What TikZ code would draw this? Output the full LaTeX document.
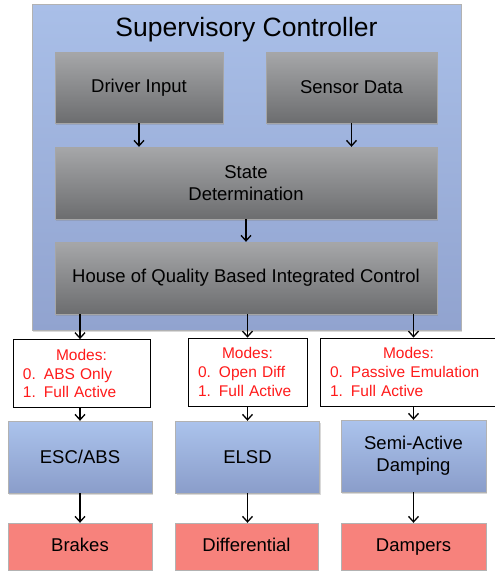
\documentclass[tikz,border=0pt]{standalone}
\usepackage{fontspec}
\setmainfont{Liberation Sans}
\usetikzlibrary{arrows.meta,shadows}
\definecolor{supert}{HTML}{A9BFE8}
\definecolor{superb}{HTML}{91A3CF}
\definecolor{greyt}{HTML}{A6A7A9}
\definecolor{greyb}{HTML}{6C6D6F}
\definecolor{bluet}{HTML}{ABC3EC}
\definecolor{blueb}{HTML}{8A9DCA}
\definecolor{salmon}{HTML}{F7827C}
\definecolor{modered}{HTML}{FF1A1A}
\newcommand{\modelist}[2]{\hfill Modes:\hfill\null\\\makebox[21pt][l]{0.}#1\\\makebox[21pt][l]{1.}#2}
\tikzset{
  softshadow/.style={drop shadow={shadow xshift=1.2pt,shadow yshift=-1.5pt,opacity=.3}},
  greybox/.style={top color=greyt,bottom color=greyb,draw=gray!70,line width=.4pt,
    minimum height=71pt,align=center,font=\fontsize{18.5}{22}\selectfont,softshadow},
  bluebox/.style={top color=bluet,bottom color=blueb,draw=gray!60,line width=.4pt,
    minimum width=144pt,minimum height=72pt,align=center,font=\fontsize{18.5}{22}\selectfont,softshadow},
  redbox/.style={fill=salmon,draw=gray!60,line width=.4pt,text height=13.5pt,text depth=4pt,
    minimum width=144pt,minimum height=47pt,font=\fontsize{18.5}{22}\selectfont,softshadow},
  modebox/.style={draw,fill=white,line width=.8pt,text=modered,align=left,inner xsep=10pt,
    inner ysep=3pt,minimum height=68pt,font=\fontsize{15.5}{18.8}\selectfont},
  arr/.style={-{Straight Barb[length=5.5pt,width=10pt]},line width=1.3pt},
}
\begin{document}
\begin{tikzpicture}[x=1pt,y=-1pt]
    \useasboundingbox (0,0) rectangle (495,571);
    % supervisory controller
    \node[top color=supert,bottom color=superb,draw=gray!60,line width=.5pt,
      minimum width=429pt,minimum height=326pt,softshadow] (super) at (246.5,167){};
    \node[font=\fontsize{26.5}{30}\selectfont] (title) at (246.5,30){Supervisory Controller};
    \node[greybox,minimum width=168pt] (driver) at (139,87.5){Driver Input};
    \node[greybox,minimum width=171pt] (sensor) at (351.5,87.5){Sensor Data};
    \node[greybox,minimum width=382pt,minimum height=72pt] (state) at (246,183){State\\Determination};
    \node[greybox,minimum width=382pt,minimum height=72pt] (hoq) at (246,278){House of Quality Based Integrated Control};
    % modes
    \node[modebox,text width=117pt] (escmodes) at (81.5,373.5){\modelist{ABS Only}{Full Active}};
    \node[modebox,text width=99pt] (elsdmodes) at (247.5,372){\modelist{Open Diff}{Full Active}};
    \node[modebox,text width=157pt] (dampmodes) at (408.5,372){\modelist{Passive Emulation}{Full Active}};
    % actuators
    \node[bluebox] (esc) at (80,457){ESC/ABS};
    \node[bluebox] (elsd) at (247.5,457){ELSD};
    \node[bluebox,minimum width=145pt] (damp) at (413.5,456){Semi-Active\\Damping};
    \node[redbox] (brakes) at (80,546.5){Brakes};
    \node[redbox,minimum width=143pt] (diff) at (246.5,546.5){Differential};
    \node[redbox,minimum width=145pt] (dampers) at (413.5,546.5){Dampers};
    % arrows
    \draw[arr] (driver.south) -- (driver.south |- state.north);
    \draw[arr] (sensor.south) -- (sensor.south |- state.north);
    \draw[arr] (state.south) -- (hoq.north);
    \draw[arr] (hoq.south -| esc) -- (escmodes.north -| esc);
    \draw[arr] (hoq.south -| elsd) -- (elsdmodes.north -| elsd);
    \draw[arr] (hoq.south -| damp) -- (dampmodes.north -| damp);
    \draw[arr] (escmodes.south -| esc) -- (esc.north);
    \draw[arr] (elsdmodes.south -| elsd) -- (elsd.north);
    \draw[arr] (dampmodes.south -| damp) -- (damp.north);
    \draw[arr] (esc.south) -- (brakes.north);
    \draw[arr] (elsd.south) -- (elsd.south |- diff.north);
    \draw[arr] (damp.south) -- (dampers.north);
  \end{tikzpicture}
\end{document}
